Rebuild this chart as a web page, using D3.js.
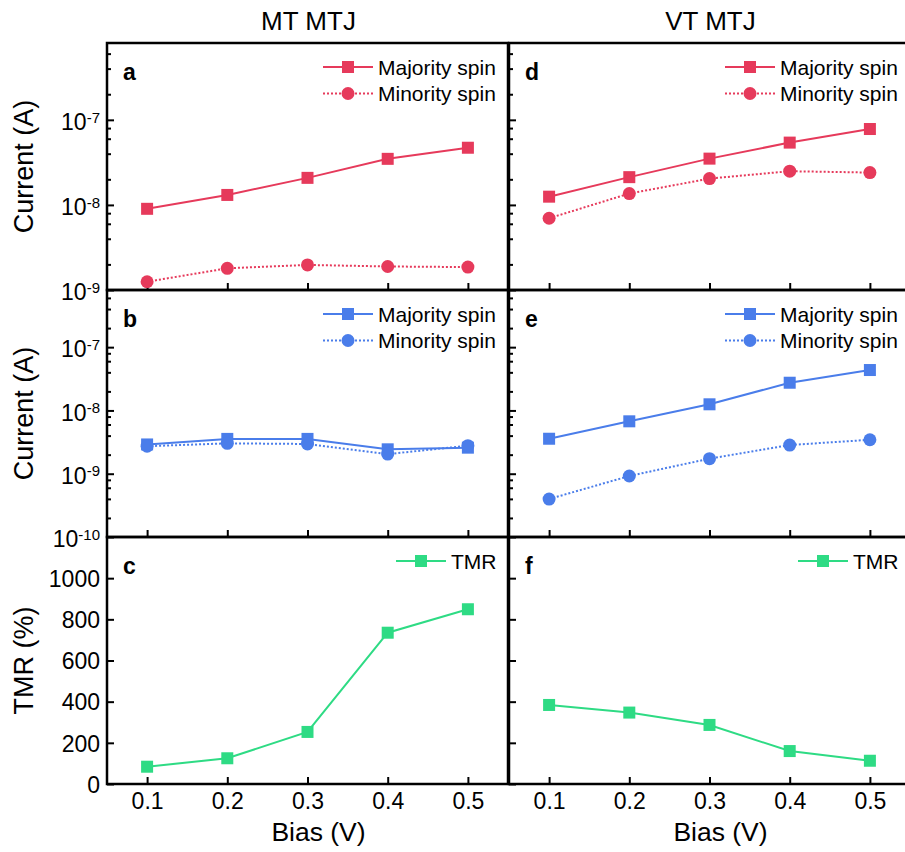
<!DOCTYPE html>
<html><head><meta charset="utf-8">
<script src="https://cdn.jsdelivr.net/npm/d3@7"></script>
<style>
body{margin:0;background:#fff}
text{font-family:Arial,"Liberation Sans",sans-serif;fill:#000}
</style>
</head><body><div id="chart"></div>
<script>
// ---- data ----
const bias = [0.1, 0.2, 0.3, 0.4, 0.5];
// MT MTJ
const mtRedMaj = [9.0e-9, 1.31e-8, 2.08e-8, 3.48e-8, 4.7e-8];
const mtRedMin = [1.25e-9, 1.8e-9, 1.97e-9, 1.89e-9, 1.86e-9];
const mtBlueMaj = [2.9e-9, 3.55e-9, 3.55e-9, 2.43e-9, 2.58e-9];
const mtBlueMin = [2.72e-9, 3.02e-9, 2.95e-9, 2.04e-9, 2.77e-9];
const mtTMR = [84, 125, 253, 735, 849];
// VT MTJ
const vtRedMaj = [1.25e-8, 2.12e-8, 3.5e-8, 5.4e-8, 7.8e-8];
const vtRedMin = [6.97e-9, 1.36e-8, 2.04e-8, 2.49e-8, 2.4e-8];
const vtBlueMaj = [3.57e-9, 6.73e-9, 1.25e-8, 2.74e-8, 4.35e-8];
const vtBlueMin = [3.98e-10, 9.2e-10, 1.73e-9, 2.84e-9, 3.44e-9];
const vtTMR = [384, 347, 287, 160, 113];

const xTicks = [0.1, 0.2, 0.3, 0.4, 0.5];
const tmrTicks = [0, 200, 400, 600, 800, 1000];
const columnTitles = ["MT MTJ", "VT MTJ"];
const letters = [["a", "b", "c"], ["d", "e", "f"]];

const red = "#e63a5b", blue = "#4a7dea", green = "#2edb84";

// ---- layout ----
const width = 905, height = 852;
const panelW = 401, panelH = 247;
const colX = [107, 509];
const rowY = [43, 290, 537];

const svg = d3.select("#chart").append("svg")
  .attr("width", width).attr("height", height);

const x = d3.scaleLinear().domain([0.05, 0.55]).range([0, panelW]);

function drawPanel(col, row, opts) {
  const g = svg.append("g").attr("transform", `translate(${colX[col]},${rowY[row]})`);
  const y = opts.y;

  // ticks pointing inward
  if (opts.log) {
    const lo = y.domain()[0], hi = y.domain()[1];
    const major = [], minor = [];
    for (let e = Math.floor(Math.log10(lo)); e <= Math.ceil(Math.log10(hi)); e++) {
      const d = Math.pow(10, e);
      if (d >= lo * 0.999 && d <= hi) major.push(d);
      [2, 4, 6, 8].forEach(m => { if (m * d > lo && m * d < hi) minor.push(m * d); });
    }
    g.append("g").call(d3.axisLeft(y).tickValues(minor).tickSizeInner(-4).tickSizeOuter(0).tickFormat(""))
      .call(a => a.select(".domain").remove());
    const ax = g.append("g").call(d3.axisLeft(y).tickValues(major).tickSizeInner(-7).tickSizeOuter(0)
        .tickPadding(7).tickFormat(""))
      .call(a => a.select(".domain").remove());
    if (col === 0) {
      ax.selectAll(".tick text").each(function(d) {
        const t = d3.select(this).attr("dy", "0.42em").style("font-size", "23px");
        t.append("tspan").text("10");
        t.append("tspan").attr("dy", "-0.5em").style("font-size", "15px").text(Math.round(Math.log10(d)));
      });
    }
  } else {
    g.append("g").call(d3.axisLeft(y).tickValues(opts.ticks).tickSizeInner(-7).tickSizeOuter(0)
        .tickPadding(7).tickFormat(col === 0 ? d3.format("d") : ""))
      .call(a => a.select(".domain").remove())
      .call(a => a.selectAll(".tick text").attr("dy", "0.36em").style("font-size", "23px"));
  }
  g.selectAll(".tick line").attr("stroke", "#000").attr("stroke-width", 2);

  const xa = g.append("g").attr("transform", `translate(0,${panelH})`)
    .call(d3.axisBottom(x).tickValues(xTicks).tickSizeInner(-7).tickSizeOuter(0).tickPadding(9)
      .tickFormat(row === 2 ? d3.format(".1f") : ""))
    .call(a => a.select(".domain").remove());
  xa.selectAll(".tick line").attr("stroke", "#000").attr("stroke-width", 2);
  xa.selectAll(".tick text").style("font-size", "23px");

  // series
  opts.series.forEach(s => {
    const pts = bias.map((b, i) => [x(b), y(s.values[i])]);
    g.append("path").datum(pts)
      .attr("d", d3.line())
      .attr("fill", "none").attr("stroke", s.color).attr("stroke-width", 2)
      .attr("stroke-dasharray", s.dotted ? "2,2" : null);
    drawMarkers(g, pts, s);
  });

  // legend
  opts.series.forEach((s, i) => {
    const ly = 24 + i * 26.5;
    const lx = panelW - opts.legendRight;
    g.append("line").attr("x1", lx).attr("x2", lx + 50).attr("y1", ly).attr("y2", ly)
      .attr("stroke", s.color).attr("stroke-width", 2)
      .attr("stroke-dasharray", s.dotted ? "2,2" : null);
    drawMarkers(g, [[lx + 25, ly]], s);
    g.append("text").attr("x", lx + 55).attr("y", ly).attr("dy", "0.36em")
      .style("font-size", "21px").text(s.name);
  });

  // letter
  g.append("text").attr("x", 16).attr("y", 37).style("font-size", "23px")
    .style("font-weight", "bold").text(letters[col][row]);

  // frame
  g.append("rect").attr("width", panelW).attr("height", panelH)
    .attr("fill", "none").attr("stroke", "#000").attr("stroke-width", 2.5);
  return g;
}

function drawMarkers(g, pts, s) {
  if (s.marker === "circle") {
    g.selectAll(null).data(pts).enter().append("circle")
      .attr("cx", d => d[0]).attr("cy", d => d[1]).attr("r", 6.5).attr("fill", s.color);
  } else {
    g.selectAll(null).data(pts).enter().append("rect")
      .attr("x", d => d[0] - 6).attr("y", d => d[1] - 6)
      .attr("width", 12).attr("height", 12).attr("fill", s.color);
  }
}

const logY = () => d3.scaleLog().domain([1e-9, 8e-7]).range([panelH, 0]);
const logY2 = () => d3.scaleLog().domain([1e-10, 8e-7]).range([panelH, 0]);
const linY = () => d3.scaleLinear().domain([0, 1200]).range([panelH, 0]);

const spin = (maj, min, color) => [
  {name: "Majority spin", values: maj, color: color, marker: "square", dotted: false},
  {name: "Minority spin", values: min, color: color, marker: "circle", dotted: true}
];
const tmr = v => [{name: "TMR", values: v, color: green, marker: "square", dotted: false}];

drawPanel(0, 0, {log: true, y: logY(), series: spin(mtRedMaj, mtRedMin, red), legendRight: 185});
drawPanel(0, 1, {log: true, y: logY2(), series: spin(mtBlueMaj, mtBlueMin, blue), legendRight: 185});
drawPanel(0, 2, {log: false, y: linY(), ticks: tmrTicks, series: tmr(mtTMR), legendRight: 112});
drawPanel(1, 0, {log: true, y: logY(), series: spin(vtRedMaj, vtRedMin, red), legendRight: 185});
drawPanel(1, 1, {log: true, y: logY2(), series: spin(vtBlueMaj, vtBlueMin, blue), legendRight: 185});
drawPanel(1, 2, {log: false, y: linY(), ticks: tmrTicks, series: tmr(vtTMR), legendRight: 112});

// titles and axis labels
columnTitles.forEach((t, i) => {
  svg.append("text").attr("x", colX[i] + panelW / 2 + 1).attr("y", 30)
    .attr("text-anchor", "middle").style("font-size", "26px").text(t);
  svg.append("text").attr("x", colX[i] + panelW / 2 + 11).attr("y", 841)
    .attr("text-anchor", "middle").style("font-size", "26.5px").text("Bias (V)");
});
const yLabels = ["Current (A)", "Current (A)", "TMR (%)"];
yLabels.forEach((t, r) => {
  svg.append("text").attr("transform", `translate(33,${rowY[r] + panelH / 2}) rotate(-90)`)
    .attr("text-anchor", "middle").style("font-size", "27px").text(t);
});
</script>
</body></html>
